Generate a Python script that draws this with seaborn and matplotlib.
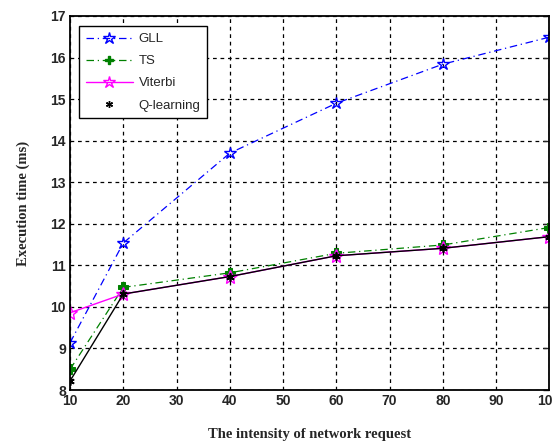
import matplotlib
matplotlib.use("Agg")
import matplotlib.pyplot as plt
from matplotlib.lines import Line2D
import seaborn as sns
import pandas as pd

x_vals = [10, 20, 40, 60, 80, 100]
gll = [9.14, 11.54, 13.7, 14.9, 15.84, 16.49]
ts = [8.5, 10.47, 10.82, 11.29, 11.49, 11.91]
viterbi = [9.86, 10.31, 10.73, 11.23, 11.41, 11.69]
qlearning = [8.22, 10.31, 10.73, 11.23, 11.41, 11.69]
x_ticks = [10, 20, 30, 40, 50, 60, 70, 80, 90, 100]
y_ticks = [8, 9, 10, 11, 12, 13, 14, 15, 16, 17]

sns.set_style("white")
plt.rcParams['font.family'] = ['Liberation Sans', 'DejaVu Sans']

fig = plt.figure(figsize=(5.52, 4.43), dpi=100)
ax = fig.add_axes([0.127, 0.1196, 0.868, 0.8443])

df = pd.DataFrame({"x": x_vals, "GLL": gll, "TS": ts, "Viterbi": viterbi, "Q-learning": qlearning})

dashdot = (0, (6, 3, 1, 3))
sns.lineplot(data=df, x="x", y="GLL", ax=ax, color="blue", linestyle=dashdot,
             marker="*", markersize=9, markerfacecolor="none", markeredgecolor="blue",
             markeredgewidth=1.0, linewidth=0.9)
sns.lineplot(data=df, x="x", y="TS", ax=ax, color="green", linestyle=dashdot,
             marker="P", markersize=7, markerfacecolor="green", markeredgecolor="green",
             linewidth=0.9)
sns.lineplot(data=df, x="x", y="Viterbi", ax=ax, color="magenta", linestyle="-",
             marker="*", markersize=10, markerfacecolor="none", markeredgecolor="magenta",
             markeredgewidth=1.0, linewidth=1.0)
sns.lineplot(data=df, x="x", y="Q-learning", ax=ax, color="black", linestyle="-",
             marker=(6, 2, 0), markersize=6, markeredgecolor="black", markeredgewidth=1.2,
             linewidth=1.0)

ax.set_xlim(10, 100)
ax.set_ylim(8, 17)
ax.set_xticks(x_ticks)
ax.set_yticks(y_ticks)
ax.set_xticklabels([str(t) for t in x_ticks], fontsize=10, fontweight="heavy")
ax.set_yticklabels([str(t) for t in y_ticks], fontsize=10, fontweight="heavy")
ax.grid(True, color="black", linestyle=(0, (3, 3)), linewidth=0.9)
ax.tick_params(direction="in", length=4, width=1, pad=3, top=False, right=True)
for s in ax.spines.values():
    s.set_color("black")
    s.set_linewidth(1.3)

ax.set_xlabel("The intensity of network request", family=["Liberation Serif"],
              fontsize=10.5, fontweight="bold", labelpad=14)
ax.set_ylabel("Execution time (ms)", family=["Liberation Serif"],
              fontsize=10.5, fontweight="bold", labelpad=15)

handles = [
    Line2D([], [], color="blue", linestyle=dashdot, marker="*", markersize=9,
           markerfacecolor="none", markeredgecolor="blue", linewidth=0.9),
    Line2D([], [], color="green", linestyle=dashdot, marker="P", markersize=6,
           markerfacecolor="green", linewidth=0.9),
    Line2D([], [], color="magenta", linestyle="-", marker="*", markersize=9,
           markerfacecolor="none", markeredgecolor="magenta", linewidth=1.0),
    Line2D([], [], color="black", linestyle="none", marker=(6, 2, 0), markersize=5),
]
leg = ax.legend(handles, ["GLL", "TS", "Viterbi", "Q-learning"], loc="upper left",
                bbox_to_anchor=(0.005, 0.99), fontsize=9.5, frameon=True, fancybox=False,
                edgecolor="black", framealpha=1, handlelength=3.6, labelspacing=0.75,
                borderpad=0.5, handletextpad=0.4)
leg.get_frame().set_linewidth(1.0)

fig.savefig("out.png", dpi=100)
